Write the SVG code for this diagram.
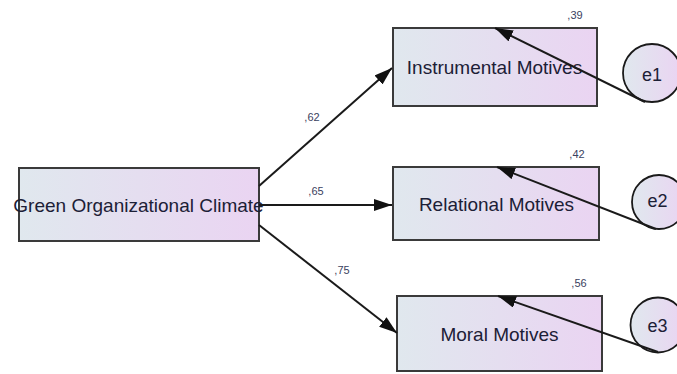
<svg xmlns="http://www.w3.org/2000/svg" width="677" height="374" viewBox="0 0 677 374">
<style>
.box{stroke:#3a3a3a;stroke-width:2;fill:url(#g)}
.circ{stroke:#1a1a1a;stroke-width:1.8;fill:url(#g)}
.lbl{font-family:"Liberation Sans",Arial,sans-serif;font-size:19px;fill:#1c2036;text-anchor:middle}
.elbl{font-family:"Liberation Sans",Arial,sans-serif;font-size:18px;fill:#1c2036;text-anchor:middle}
.num{font-family:"Liberation Sans",Arial,sans-serif;font-size:11px;fill:#3a4260;text-anchor:middle}
.edge{stroke:#1a1a1a;stroke-width:2;fill:none;marker-end:url(#arr)}
</style>
<defs>
<linearGradient id="g" x1="0" y1="0" x2="1" y2="0">
<stop offset="0" stop-color="#e0e8ee"/>
<stop offset="1" stop-color="#ead4f2"/>
</linearGradient>
<marker id="arr" markerUnits="userSpaceOnUse" markerWidth="20" markerHeight="12" refX="18" refY="6" orient="auto">
<path d="M0,0 L18,6 L0,12 z" fill="#111"/>
</marker>
</defs>
<rect width="677" height="374" fill="#fff"/>
<g id="nodes">
<g id="goc"><rect class="box" x="19" y="168" width="240" height="73"/><text class="lbl" x="138.5" y="212">Green Organizational Climate</text></g>
<g id="instrumental"><rect class="box" x="393" y="28" width="204" height="78"/><text class="lbl" x="494.5" y="74">Instrumental Motives</text></g>
<g id="relational"><rect class="box" x="393" y="167" width="206" height="73"/><text class="lbl" x="496.5" y="211">Relational Motives</text></g>
<g id="moral"><rect class="box" x="397" y="296" width="205" height="75"/><text class="lbl" x="499.5" y="341">Moral Motives</text></g>
<g id="e1"><circle class="circ" cx="652" cy="73" r="29"/><text class="elbl" x="652" y="81">e1</text></g>
<g id="e2"><circle class="circ" cx="659" cy="202" r="27"/><text class="elbl" x="657.5" y="207">e2</text></g>
<g id="e3"><circle class="circ" cx="658" cy="325" r="27.5"/><text class="elbl" x="657.5" y="332">e3</text></g>
</g>
<g id="connectors">
<path class="edge" d="M259,186 L392,68"/>
<path class="edge" d="M259,205 L392,205"/>
<path class="edge" d="M259,225 L397,333"/>
<path class="edge" d="M645,102 L495,28"/>
<path class="edge" d="M656,229 L497,167"/>
<path class="edge" d="M658,352 L498,296"/>
</g>
<g id="labels">
<text class="num" x="312" y="121">,62</text>
<text class="num" x="316" y="195">,65</text>
<text class="num" x="342" y="274">,75</text>
<text class="num" x="575" y="19">,39</text>
<text class="num" x="577" y="158">,42</text>
<text class="num" x="579" y="287">,56</text>
</g>
</svg>
